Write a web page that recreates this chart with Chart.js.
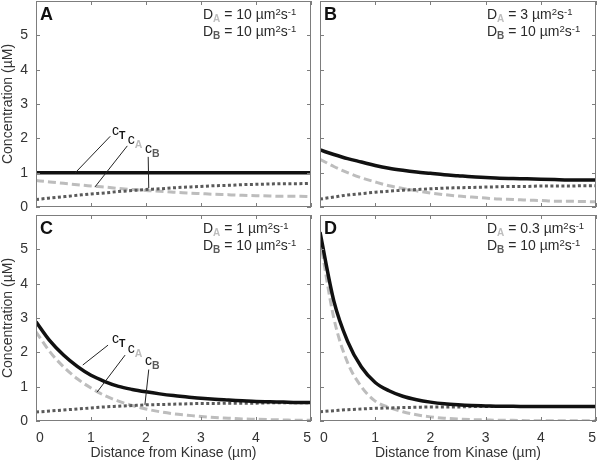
<!DOCTYPE html>
<html>
<head>
<meta charset="utf-8">
<script src="https://cdn.jsdelivr.net/npm/chart.js@4.4.1/dist/chart.umd.min.js"></script>
<style>
  html, body { margin: 0; padding: 0; background: #fff; }
  #wrap { position: relative; width: 600px; height: 462px; overflow: hidden; }
  #wrap canvas { position: absolute; left: 0; top: 0; }
</style>
</head>
<body>
<div id="wrap">
  <canvas id="pA" width="600" height="462"></canvas>
  <canvas id="pB" width="600" height="462"></canvas>
  <canvas id="pC" width="600" height="462"></canvas>
  <canvas id="pD" width="600" height="462"></canvas>
</div>
<script>
/* =========================================================
   Concentration profiles vs distance from kinase (4 panels)
   ========================================================= */

// shared x grid (µm) and ticks
const distance = [0, 0.25, 0.5, 0.75, 1, 1.25, 1.5, 1.75, 2, 2.25, 2.5, 2.75, 3, 3.25, 3.5, 3.75, 4, 4.25, 4.5, 4.75, 5];
const xTicks = [0, 1, 2, 3, 4, 5];
const yTicks = [0, 1, 2, 3, 4, 5];

// A : DA = 10, DB = 10
const cT_A = [1.00, 1.00, 1.00, 1.00, 1.00, 1.00, 1.00, 1.00, 1.00, 1.00, 1.00, 1.00, 1.00, 1.00, 1.00, 1.00, 1.00, 1.00, 1.00, 1.00, 1.00];
const cA_A = [0.77, 0.73, 0.69, 0.65, 0.61, 0.58, 0.54, 0.51, 0.48, 0.46, 0.43, 0.41, 0.39, 0.37, 0.36, 0.34, 0.33, 0.32, 0.31, 0.31, 0.30];
const cB_A = [0.22, 0.26, 0.30, 0.34, 0.38, 0.41, 0.45, 0.48, 0.51, 0.53, 0.56, 0.58, 0.60, 0.62, 0.63, 0.65, 0.66, 0.67, 0.68, 0.68, 0.69];

// B : DA = 3, DB = 10
const cT_B = [1.66, 1.53, 1.41, 1.31, 1.21, 1.13, 1.07, 1.02, 0.98, 0.94, 0.91, 0.88, 0.86, 0.84, 0.83, 0.82, 0.81, 0.80, 0.79, 0.79, 0.79];
const cA_B = [1.39, 1.18, 1.00, 0.85, 0.73, 0.62, 0.54, 0.47, 0.41, 0.36, 0.32, 0.29, 0.26, 0.23, 0.22, 0.20, 0.19, 0.17, 0.17, 0.16, 0.15];
const cB_B = [0.23, 0.29, 0.35, 0.39, 0.43, 0.46, 0.49, 0.51, 0.53, 0.55, 0.56, 0.57, 0.58, 0.59, 0.60, 0.60, 0.61, 0.61, 0.61, 0.62, 0.62];

// C : DA = 1, DB = 10
const cT_C = [2.89, 2.34, 1.92, 1.59, 1.33, 1.15, 1.01, 0.92, 0.85, 0.79, 0.74, 0.70, 0.66, 0.63, 0.61, 0.59, 0.57, 0.56, 0.55, 0.54, 0.54];
const cA_C = [2.60, 2.02, 1.58, 1.23, 0.96, 0.74, 0.58, 0.45, 0.35, 0.27, 0.21, 0.17, 0.13, 0.10, 0.08, 0.06, 0.05, 0.04, 0.03, 0.02, 0.02];
const cB_C = [0.26, 0.29, 0.32, 0.35, 0.38, 0.41, 0.43, 0.45, 0.47, 0.48, 0.49, 0.50, 0.51, 0.51, 0.52, 0.52, 0.52, 0.53, 0.53, 0.53, 0.53];

// D : DA = 0.3, DB = 10
const cT_D = [5.50, 3.50, 2.32, 1.57, 1.12, 0.88, 0.72, 0.62, 0.55, 0.50, 0.47, 0.45, 0.44, 0.43, 0.43, 0.42, 0.42, 0.42, 0.42, 0.42, 0.42];
const cA_D = [5.30, 3.00, 1.70, 1.00, 0.58, 0.40, 0.27, 0.18, 0.12, 0.08, 0.06, 0.04, 0.03, 0.02, 0.02, 0.01, 0.01, 0.01, 0.01, 0.01, 0.01];
const cB_D = [0.27, 0.30, 0.33, 0.35, 0.37, 0.38, 0.39, 0.40, 0.41, 0.41, 0.41, 0.42, 0.42, 0.42, 0.42, 0.42, 0.42, 0.42, 0.42, 0.42, 0.42];

const FONT = '"Liberation Sans", Arial, Helvetica, sans-serif';
const TXT = '#2a2a2a';
const GRAY_A = '#bdbdbd';
const GRAY_B = '#5a5a5a';

// curve name labels + leader lines (data coords), only in A and C
const labelsA = {
  lines: [[[0.71, 0.99], [1.35, 2.06]], [[1.07, 0.58], [1.66, 1.78]], [[2.05, 0.55], [2.04, 1.46]]],
  text: [[1.38, 2.10, 'T'], [1.67, 1.83, 'A'], [1.98, 1.57, 'B']]
};
const labelsC = {
  lines: [[[0.85, 1.63], [1.31, 2.21]], [[1.11, 0.84], [1.62, 1.92]], [[1.98, 0.47], [2.05, 1.50]]],
  text: [[1.38, 2.27, 'T'], [1.67, 1.98, 'A'], [1.98, 1.63, 'B']]
};

const panels = [
  { id: 'pA', letter: 'A', da: '10', area: { l: 36, t: 1, r: 311, b: 207 }, xLab: false, yLab: true,  cT: cT_A, cA: cA_A, cB: cB_A, names: labelsA },
  { id: 'pB', letter: 'B', da: '3',  area: { l: 320, t: 1, r: 596, b: 207 }, xLab: false, yLab: false, cT: cT_B, cA: cA_B, cB: cB_B },
  { id: 'pC', letter: 'C', da: '1',  area: { l: 36, t: 215, r: 311, b: 421 }, xLab: true, yLab: true,  cT: cT_C, cA: cA_C, cB: cB_C, names: labelsC },
  { id: 'pD', letter: 'D', da: '0.3', area: { l: 320, t: 215, r: 596, b: 421 }, xLab: true, yLab: false, cT: cT_D, cA: cA_D, cB: cB_D },
];

// draw a run of text pieces with own size / weight / colour / baseline shift
function drawRich(ctx, x, y, parts) {
  parts.forEach(p => {
    ctx.font = `${p.bold ? 'bold ' : ''}${p.size}px ${FONT}`;
    ctx.fillStyle = p.color || TXT;
    ctx.fillText(p.t, x, y + (p.dy || 0));
    x += ctx.measureText(p.t).width;
  });
}

// box + inward tick marks, matlab style
const framePlugin = {
  id: 'frame',
  afterDatasetsDraw(chart) {
    const { ctx, chartArea: a, scales: { x, y } } = chart;
    ctx.save();
    ctx.strokeStyle = '#7d7d7d';
    ctx.lineWidth = 1;
    ctx.strokeRect(a.left + 0.5, a.top + 0.5, a.right - a.left - 1, a.bottom - a.top - 1);
    ctx.beginPath();
    xTicks.forEach(v => {
      const px = Math.round(x.getPixelForValue(v)) + 0.5;
      ctx.moveTo(px, a.bottom); ctx.lineTo(px, a.bottom - 4);
      ctx.moveTo(px, a.top); ctx.lineTo(px, a.top + 4);
    });
    yTicks.forEach(v => {
      const py = Math.round(y.getPixelForValue(v)) + 0.5;
      ctx.moveTo(a.left, py); ctx.lineTo(a.left + 4, py);
      ctx.moveTo(a.right, py); ctx.lineTo(a.right - 4, py);
    });
    ctx.stroke();
    ctx.restore();
  }
};

// panel letter, diffusion constants, curve names
const notesPlugin = {
  id: 'notes',
  afterDraw(chart) {
    const p = chart.config.options.plugins.notes;
    const { ctx, chartArea: a, scales: { x, y } } = chart;
    ctx.save();
    ctx.textBaseline = 'alphabetic';
    ctx.textAlign = 'left';
    ctx.font = `bold 18px ${FONT}`;
    ctx.fillStyle = '#111';
    ctx.fillText(p.letter, a.left + 4, a.top + 19);

    const tx = a.left + 167;
    drawRich(ctx, tx, a.top + 18, [
      { t: 'D', size: 14 }, { t: 'A', size: 10, bold: true, color: GRAY_A, dy: 3 },
      { t: ` = ${p.da} µm`, size: 14 }, { t: '2', size: 9.5, dy: -4 },
      { t: 's', size: 14 }, { t: '-1', size: 9.5, dy: -4 }
    ]);
    drawRich(ctx, tx, a.top + 35, [
      { t: 'D', size: 14 }, { t: 'B', size: 10, bold: true, color: GRAY_B, dy: 3 },
      { t: ' = 10 µm', size: 14 }, { t: '2', size: 9.5, dy: -4 },
      { t: 's', size: 14 }, { t: '-1', size: 9.5, dy: -4 }
    ]);

    if (p.names) {
      ctx.strokeStyle = '#222';
      ctx.lineWidth = 1;
      ctx.beginPath();
      p.names.lines.forEach(([s, e]) => {
        ctx.moveTo(x.getPixelForValue(s[0]), y.getPixelForValue(s[1]));
        ctx.lineTo(x.getPixelForValue(e[0]), y.getPixelForValue(e[1]));
      });
      ctx.stroke();
      const subCol = { T: '#111', A: GRAY_A, B: GRAY_B };
      p.names.text.forEach(([vx, vy, s]) => {
        drawRich(ctx, x.getPixelForValue(vx), y.getPixelForValue(vy), [
          { t: 'c', size: 14, color: '#111' },
          { t: s, size: 10.5, bold: true, color: subCol[s], dy: 4 }
        ]);
      });
    }
    ctx.restore();
  }
};

function series(label, values, color, dash, width) {
  return {
    label,
    data: distance.map((d, i) => ({ x: d, y: values[i] })),
    borderColor: color,
    borderWidth: width,
    borderDash: dash,
    borderCapStyle: 'butt',
    pointRadius: 0,
    cubicInterpolationMode: 'monotone',
    fill: false
  };
}

function makePanel(p) {
  const a = p.area;
  const tickFont = { family: FONT, size: 14 };
  new Chart(document.getElementById(p.id), {
    type: 'line',
    data: {
      // first dataset is painted last (on top)
      datasets: [
        series('cT', p.cT, '#111111', [], 3.5),
        series('cB', p.cB, GRAY_B, [3, 2.5], 3),
        series('cA', p.cA, GRAY_A, [8, 4], 3),
      ]
    },
    options: {
      responsive: false,
      animation: false,
      events: [],
      layout: {
        padding: {
          left: p.yLab ? 0 : a.l,
          top: a.t,
          right: 600 - a.r,
          bottom: p.xLab ? 0 : 462 - a.b
        }
      },
      plugins: {
        legend: { display: false },
        tooltip: { enabled: false },
        notes: { letter: p.letter, da: p.da, names: p.names }
      },
      scales: {
        x: {
          type: 'linear', min: 0, max: 5,
          grid: { display: false, drawTicks: false }, border: { display: false },
          afterBuildTicks: s => { s.ticks = xTicks.map(v => ({ value: v })); },
          afterFit: s => {
            s.height = p.xLab ? 462 - a.b : 0;
            s.paddingLeft = 0; s.paddingRight = 0;
          },
          ticks: { display: p.xLab, autoSkip: false, maxRotation: 0, align: 'inner', padding: 9, color: '#333', font: tickFont },
          title: { display: p.xLab, text: 'Distance from Kinase (µm)', padding: 0, color: '#333', font: tickFont }
        },
        y: {
          type: 'linear', min: 0, max: 6,
          grid: { display: false, drawTicks: false }, border: { display: false },
          afterBuildTicks: s => { s.ticks = yTicks.map(v => ({ value: v })); },
          afterFit: s => {
            s.width = p.yLab ? a.l : 0;
            s.paddingTop = 0; s.paddingBottom = 0;
          },
          ticks: { display: p.yLab, padding: 8, color: '#333', font: tickFont },
          title: { display: p.yLab, text: 'Concentration (µM)', padding: 0, color: '#333', font: tickFont }
        }
      }
    },
    plugins: [framePlugin, notesPlugin]
  });
}

panels.forEach(makePanel);
</script>
</body>
</html>
